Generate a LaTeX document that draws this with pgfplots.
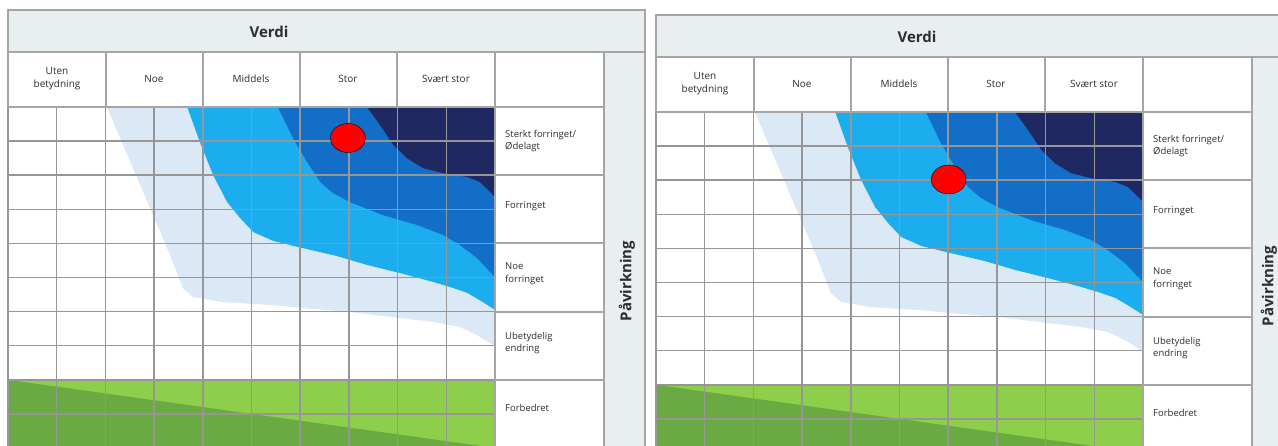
\documentclass[border=0pt]{standalone}
\usepackage{fontspec}
\setmainfont{Open Sans}
\usepackage{pgfplots}
\pgfplotsset{compat=1.18}
\definecolor{cLight}{RGB}{219,232,245}
\definecolor{cSky}{RGB}{27,173,237}
\definecolor{cDark}{RGB}{19,110,200}
\definecolor{cNavy}{RGB}{31,40,96}
\definecolor{gLight}{RGB}{141,207,74}
\definecolor{gDark}{RGB}{106,170,66}
\definecolor{hdr}{RGB}{233,238,240}
\definecolor{lin}{RGB}{150,150,150}
\definecolor{frm}{RGB}{165,165,165}
\definecolor{txt}{RGB}{45,45,45}

\pgfplotsset{
  base/.style={
    scale only axis, anchor=south west, width=487pt, height=341pt,
    xmin=0, xmax=10, ymin=0, ymax=10,
  },
  fan/.style={base,
    xtick={0,1,2,3,4,5,6,7,8,9,10}, ytick={0,1,2,3,4,5,6,7,8,9,10},
    xticklabel=\empty, yticklabel=\empty,
    major tick length=0pt, grid=major,
    grid style={lin, line width=1.5pt},
    axis line style={lin, line width=1.5pt},
    axis on top,
  },
  dot/.style={only marks, mark=*, mark size=14.5pt,
    mark options={fill=red, draw=none, xscale=1.2}},
}

\newcommand\fan{%
  \addplot[fill=gLight, draw=none] coordinates {(0,0)(10,0)(10,2)(0,2)} -- cycle;
  \addplot[fill=gDark, draw=none] coordinates {(0,2)(10,0)(0,0)} -- cycle;
  \addplot[fill=cLight, draw=none] coordinates {(2.03,10)(3.02,6.69)(3.26,5.89)(3.47,5.13)(3.59,4.69)(3.80,4.43)(4.41,4.28)(5.44,4.19)(6.00,4.11)(7.02,3.99)(8.05,3.81)(8.73,3.70)(9.28,3.55)(9.63,3.31)(9.96,3.02)(10,2.96)(10,10)} -- cycle;
  \addplot[fill=cSky, draw=none] coordinates {(3.68,10)(3.94,8.97)(4.21,8.01)(4.50,7.21)(4.78,6.72)(5.04,6.33)(5.45,6.07)(6.00,5.88)(6.75,5.63)(7.37,5.37)(8.05,5.13)(8.73,4.87)(9.08,4.72)(9.43,4.55)(9.75,4.28)(10,4.05)(10,10)} -- cycle;
  \addplot[fill=cDark, draw=none] coordinates {(5.54,10)(5.85,9.09)(6.14,8.39)(6.41,7.80)(6.67,7.48)(7.02,7.21)(7.70,6.83)(8.40,6.54)(8.93,6.25)(9.28,5.95)(9.63,5.57)(9.96,5.07)(10,4.99)(10,10)} -- cycle;
  \addplot[fill=cNavy, draw=none] coordinates {(7.37,10)(7.64,9.47)(7.91,8.89)(8.19,8.50)(8.52,8.21)(8.93,8.06)(9.43,7.95)(9.69,7.80)(9.90,7.51)(10,7.36)(10,10)} -- cycle;
}

\newcommand\decor[1]{%
  \begin{scope}[x=1pt, y=-1pt, every node/.style={text=txt, inner sep=0pt}]
    \fill[hdr] (8,10) rectangle (645,52);
    \draw[frm, line width=1.2pt] (8,10) rectangle (645,52);
    \draw[frm, line width=1.2pt] (8,52) rectangle (604,107);
    \foreach \xx in {106,203,300,397,495} \draw[frm, line width=1.2pt] (\xx,52) -- (\xx,107);
    \fill[white] (495,107) rectangle (604,470);
    \draw[frm, line width=1.2pt] (495,52) -- (495,470) (604,52) -- (604,470);
    \foreach \yy in {107,175,243,312,380} \draw[frm, line width=1.2pt] (495,\yy) -- (604,\yy);
    \fill[hdr] (604,52) rectangle (645,470);
    \draw[frm, line width=1.2pt] (604,52) -- (645,52) (645,52) -- (645,470) (604,52) -- (604,470);
    \node[font=\fontsize{15}{18}\selectfont\bfseries] at (269,32) {Verdi};
    \node[font=\fontsize{10}{13}\selectfont, align=center] at (57,79) {Uten\\betydning};
    \node[font=\fontsize{10}{13}\selectfont] at (154,79) {Noe};
    \node[font=\fontsize{10}{13}\selectfont] at (251,79) {Middels};
    \node[font=\fontsize{10}{13}\selectfont] at (348,79) {Stor};
    \node[font=\fontsize{10}{13}\selectfont] at (446,79) {Svært stor};
    \node[font=\fontsize{9.5}{12.5}\selectfont, align=left, anchor=west] at (505,141) {Sterkt forringet/\\Ødelagt};
    \node[font=\fontsize{9.5}{12.5}\selectfont, align=left, anchor=west] at (505,206) {Forringet};
    \node[font=\fontsize{9.5}{12.5}\selectfont, align=left, anchor=west] at (505,274) {Noe\\forringet};
    \node[font=\fontsize{9.5}{12.5}\selectfont, align=left, anchor=west] at (505,343) {Ubetydelig\\endring};
    \node[font=\fontsize{9.5}{12.5}\selectfont, align=left, anchor=west] at (505,408) {Forbedret};
    \node[font=\fontsize{15}{18}\selectfont\bfseries, rotate=90] at (#1,281) {Påvirkning};
  \end{scope}%
}

\begin{document}
\begin{tikzpicture}
\fill[white] (0pt,0pt) rectangle (1278pt,-446pt);
\begin{axis}[fan, at={(8pt,-448pt)}]
  \fan
\end{axis}
\begin{axis}[base, hide axis, at={(8pt,-448pt)}]
  \addplot[dot] coordinates {(6.98,9.09)};
\end{axis}
\begin{axis}[fan, at={(656pt,-453pt)}]
  \fan
\end{axis}
\begin{axis}[base, hide axis, at={(656pt,-453pt)}]
  \addplot[dot] coordinates {(6.01,8.02)};
\end{axis}
\decor{627}
\begin{scope}[shift={(648pt,-5pt)}]
  \decor{621}
\end{scope}
\pgfresetboundingbox
\useasboundingbox (0pt,0pt) rectangle (1278pt,-446pt);
\end{tikzpicture}
\end{document}
